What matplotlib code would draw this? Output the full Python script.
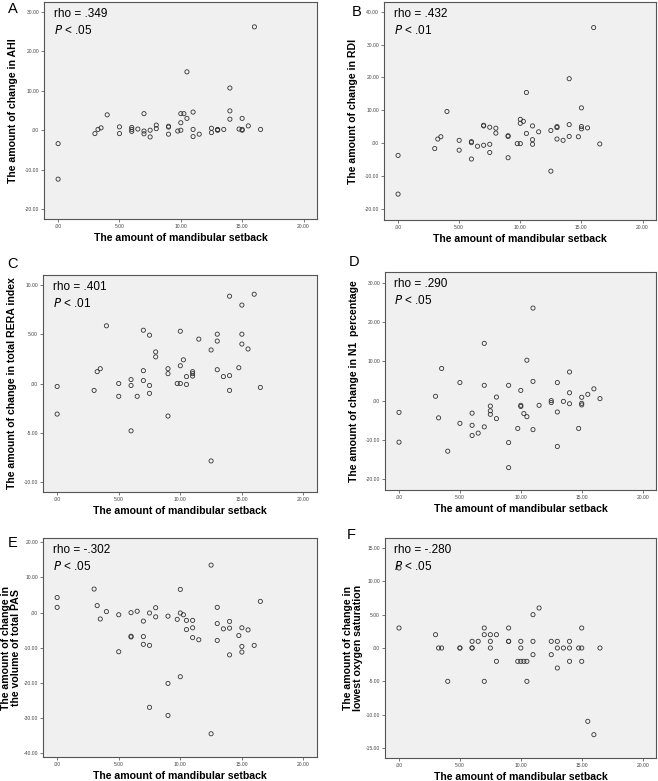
import matplotlib.pyplot as plt
from matplotlib.ticker import FuncFormatter

plt.rcParams['font.family'] = ['Liberation Sans', 'DejaVu Sans']

# A: change in AHI
ahi_x = [0, 0, 3, 3.25, 3.5, 4, 5, 5, 6, 6, 6, 6.5, 7, 7, 7, 7.5, 7.5, 8, 8, 9, 9, 9,
         9.75, 10, 10, 10, 10.25, 10.5, 10.5, 11, 11, 11, 11.5, 12.5, 12.5, 13, 13, 13,
         13.5, 14, 14, 14, 14.75, 15, 15, 15, 15.5, 16, 16.5]
ahi_y = [-3.4, -12.4, -0.85, 0.2, 0.6, 3.9, 0.85, -0.85, 0.7, 0.2, -0.3, 0.3, 4.2, -0.2, -0.9,
         0, -1.7, 1.3, 0.4, 1.0, 0.8, -1.0, -0.2, 0, 1.9, 4.2, 4.2, 14.8, 3.0, 4.6, 0.2, -1.6,
         -1.0, 0.5, -0.6, 0.1, 0.0, 0.2, 0.2, 10.7, 4.9, 2.8, 0.3, 3.0, 0.2, 0, 1.1, 26.2, 0.2]

# B: change in RDI
rdi_x = [0, 0, 3, 3.25, 3.5, 4, 5, 5, 6, 6, 6, 6.5, 7, 7, 7, 7.5, 7.5, 7.5, 8, 8, 9, 9, 9,
         9.75, 10, 10, 10, 10.25, 10.5, 10.5, 11, 11, 11, 11.5, 12.5, 12.5, 13, 13, 13, 13.5,
         14, 14, 14, 14.75, 15, 15, 15, 15.5, 16, 16.5]
rdi_y = [-3.8, -15.6, -1.7, 1.2, 1.9, 9.6, 0.8, -2.2, 0.4, 0.1, -4.9, -1.0, 5.4, 5.2, -0.7,
         4.8, -0.4, -2.9, 4.5, 3.0, 2.2, 2.0, -4.5, -0.2, -0.2, 7.2, 6.0, 6.6, 15.4, 2.9, 5.2,
         1.0, -0.4, 3.4, 3.8, -8.6, 5.0, 4.7, 1.2, 0.8, 19.6, 5.6, 2.0, 1.9, 10.7, 5.0, 4.3,
         4.6, 35.2, -0.3]

# C: change in total RERA index
rera_x = [0, 0, 3, 3.25, 3.5, 4, 5, 5, 6, 6, 6, 6.5, 7, 7, 7, 7.5, 7.5, 7.5, 8, 8, 9, 9, 9,
          9.75, 10, 10, 10, 10.25, 10.5, 10.5, 11, 11, 11, 11.5, 12.5, 12.5, 13, 13, 13, 13.5,
          14, 14, 14, 14.75, 15, 15, 15, 15.5, 16, 16.5]
rera_y = [-0.3, -3.1, -0.7, 1.2, 1.5, 5.85, 0, -1.3, 0.4, -0.2, -4.8, -1.3, 5.4, 1.3, 0.3,
          4.9, -0.2, -1.0, 3.2, 2.7, 1.5, 1.0, -3.3, 0, 5.3, 1.8, 0, 2.4, 0.7, -0.1, 1.2, 1.0,
          0.75, 4.5, 3.4, -7.85, 5.0, 4.3, 1.4, 0.7, 8.85, 0.8, -0.7, 1.6, 7.95, 5.0, 4.0,
          3.5, 9.05, -0.4]

# D: change in N1 percentage
n1_x = [0, 0, 3, 3.25, 3.5, 4, 5, 5, 6, 6, 6, 6.5, 7, 7, 7, 7.5, 7.5, 7.5, 8, 8, 9, 9, 9,
        9.75, 10, 10, 10, 10.25, 10.5, 10.5, 11, 11, 11, 11.5, 12.5, 12.5, 13, 13, 13, 13.5,
        14, 14, 14, 14.75, 15, 15, 15, 15.5, 16, 16.5]
n1_y = [-3.0, -10.6, 1.1, -4.4, 8.2, -12.9, 4.6, -5.8, -3.2, -6.3, -8.9, -8.3, 14.6, 3.9,
        -6.7, -1.4, -2.6, -3.5, 0.9, -4.6, 3.9, -10.7, -17.1, -7.1, 2.6, -1.2, -1.5, -3.3,
        10.3, -4.1, 23.6, 4.9, -7.4, -1.2, 0, -0.5, 4.6, -2.9, -11.7, -0.2, 7.3, 2.0, -0.8,
        -7.1, 0.85, -0.7, -1.1, 1.6, 3.0, 0.5]

# E: change in the volume of total PAS
pas_x = [0, 0, 3, 3.25, 3.5, 4, 5, 5, 6, 6, 6, 6.5, 7, 7, 7, 7.5, 7.5, 7.5, 8, 8, 9, 9, 9,
         9.75, 10, 10, 10, 10.25, 10.5, 10.5, 11, 11, 11, 11.5, 12.5, 12.5, 13, 13, 13, 13.5,
         14, 14, 14, 14.75, 15, 15, 15, 15.5, 16, 16.5]
pas_y = [4.3, 1.5, 6.7, 2.0, -1.8, 0.3, -0.6, -11.1, 0, -6.7, -6.9, 0.4, -2.4, -6.8, -9.0,
         -0.1, -9.3, -26.9, 1.4, -1.2, -1.0, -20.1, -29.2, -1.9, 6.6, -0.1, -18.2, -0.6, -2.2,
         -4.8, -2.2, -4.3, -7.1, -7.7, 13.5, -34.4, 1.5, -3.1, -7.9, -4.6, -2.5, -4.4, -12.0,
         -6.5, -4.3, -9.6, -11.2, -4.9, -9.3, 3.2]

# F: change in lowest oxygen saturation
spo2_x = [0, 0, 3, 3.25, 3.5, 4, 5, 5, 6, 6, 6, 6.5, 7, 7, 7, 7.5, 7.5, 7.5, 8, 8, 9, 9, 9,
          9.75, 10, 10, 10, 10.25, 10.5, 10.5, 11, 11, 11, 11.5, 12.5, 12.5, 13, 13, 13, 13.5,
          14, 14, 14, 14.75, 15, 15, 15, 15.5, 16, 16.5]
spo2_y = [12, 3, 2, 0, 0, -5, 0, 0, 1, 0, 0, 1, 3, 2, -5, 2, 1, 0, 2, -2, 3, 1, 1, -2, 1, 0,
          -2, -2, -2, -5, 5, 1, -1, 6, 1, -1, 1, 0, -3, 0, 1, 0, -2, 0, 3, 0, -2, -11, -13, 0]

panels = [
    ('A', ahi_x, ahi_y, 'The amount of change in AHI', '.349', '< .05', (-22.5, 32.5), [-20, -10, 0, 10, 20, 30]),
    ('B', rdi_x, rdi_y, 'The amount of change in RDI', '.432', '< .01', (-23.5, 43), [-20, -10, 0, 10, 20, 30, 40]),
    ('C', rera_x, rera_y, 'The amount of change in total RERA index', '.401', '< .01', (-11, 11), [-10, -5, 0, 5, 10]),
    ('D', n1_x, n1_y, 'The amount of change in N1  percentage', '.290', '< .05', (-22.8, 32.8), [-20, -10, 0, 10, 20, 30]),
    ('E', pas_x, pas_y, 'The amount of change in\nthe volume of total PAS', '-.302', '< .05', (-41, 21.2), [-40, -30, -20, -10, 0, 10, 20]),
    ('F', spo2_x, spo2_y, 'The amount of change in\nlowest oxygen saturation', '-.280', '< .05', (-16.5, 16.5), [-15, -10, -5, 0, 5, 10, 15]),
]

W, H = 658, 781
# axes boxes in pixels: left, top, right, bottom
boxes = [(44, 2, 317, 219), (384, 2, 656, 220),
         (43, 275, 317, 492), (385, 272, 656, 490),
         (43, 538, 317, 757), (385, 538, 656, 758)]
letter_pos = [(13, 9), (357, 12), (13, 264), (354, 262), (13, 543), (351, 535)]


def fmt(v, pos):
    s = f'{v:.2f}'
    if s.startswith('0'):
        s = s[1:]
    elif s.startswith('-0'):
        s = '-' + s[2:]
    return s


fig = plt.figure(figsize=(W / 100, H / 100), dpi=100)

for i, (letter, xs, ys, ylab, rho, pval, ylim, yticks) in enumerate(panels):
    l, t, r, b = boxes[i]
    ax = fig.add_axes([l / W, 1 - b / H, (r - l) / W, (b - t) / H])
    ax.set_facecolor('#f0f0f0')
    ax.scatter(xs, ys, s=9, facecolors='none', edgecolors='#333333', linewidths=0.6, zorder=3)
    ax.set_xlim(-1.15, 21.1)
    ax.set_ylim(*ylim)
    ax.set_xticks([0, 5, 10, 15, 20])
    ax.set_yticks(yticks)
    ax.xaxis.set_major_formatter(FuncFormatter(fmt))
    ax.yaxis.set_major_formatter(FuncFormatter(fmt))
    ax.tick_params(labelsize=3.6, length=2, width=0.5, colors='#444444', pad=1.5)
    for sp in ax.spines.values():
        sp.set_color('#555555')
        sp.set_linewidth(0.8)
    ax.set_xlabel('The amount of mandibular setback', fontsize=7.6, fontweight='bold', labelpad=3)
    ax.set_ylabel(ylab, fontsize=7.6, fontweight='bold', va='center', linespacing=1.0)
    w = r - l
    lx = 31 if '\n' not in ylab else 32
    ax.yaxis.set_label_coords(-lx / w, 0.5)
    ax.text(0.035, 0.972, f'rho = {rho}', transform=ax.transAxes, fontsize=8.5, va='top', ha='left')
    ax.text(0.035, 0.9, '$P$ ' + pval, transform=ax.transAxes, fontsize=8.5, va='top', ha='left')
    fx, fy = letter_pos[i]
    fig.text(fx / W, 1 - fy / H, letter, fontsize=10.5, ha='center', va='center')

fig.savefig('out.png', dpi=100)
